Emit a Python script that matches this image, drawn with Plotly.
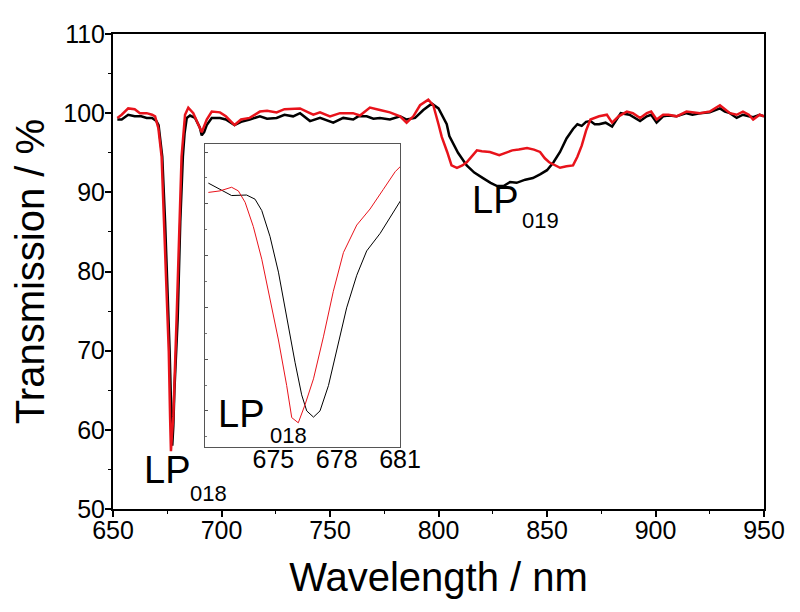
import plotly.graph_objects as go

# ---- main spectra (wavelength nm, transmission %) ----
wl_black = [652, 654, 657, 660, 663, 665.5, 668, 670, 671, 672, 672.7, 674, 675.2, 676.1, 676.9, 677.3,
            677.8, 678.3, 679.8, 681, 682.2, 683, 684, 685.5, 687.8, 690, 690.9, 692, 693.2, 695.5,
            699.3, 702, 706, 709, 713, 717.7, 721, 725.4, 729, 733, 736.2, 740.8, 745.4, 748, 751.5,
            756.1, 760.7, 763, 766.9, 770, 773, 777.6, 782.3, 785.3, 789.2, 793, 796.9, 800, 803.8,
            805, 809, 813, 816.5, 820.5, 824, 827, 830, 833, 836, 840, 843.5, 847, 850, 853, 856,
            859, 862, 864, 866, 868, 870, 872, 874, 877, 880, 884, 888, 892.9, 896, 898, 900.5,
            903.5, 906, 909.7, 914.3, 917, 920.5, 925, 929.7, 932, 934.3, 937.4, 940.3, 943, 945,
            948, 950]
t_black = [99.2, 99.2, 99.8, 99.6, 99.6, 99.4, 99.4, 99.0, 98.5, 96.0, 94.5, 86.3, 78.1, 69.9, 61.7, 58.0,
           60.5, 65.0, 74.0, 86.3, 94.5, 97.5, 99.4, 99.7, 99.4, 98.2, 97.2, 97.6, 98.5, 99.4,
           99.4, 99.2, 98.5, 98.9, 99.2, 99.6, 99.3, 99.4, 99.8, 99.6, 100.0, 99.0, 99.4, 99.1, 98.8,
           99.4, 99.2, 99.6, 99.6, 99.3, 99.4, 99.2, 99.6, 99.2, 99.4, 100.4, 101.2, 100.6, 98.6,
           97.1, 95.0, 93.4, 92.5, 91.8, 91.2, 90.8, 90.8, 91.3, 91.2, 91.6, 91.8, 92.3, 92.8, 93.8, 95.1,
           96.8, 98.0, 98.6, 98.4, 98.9, 99.0, 98.6, 98.6, 98.8, 98.3, 100.0, 99.8, 99.0, 99.6, 99.8, 98.8,
           99.6, 99.7, 99.6, 100.0, 99.8, 100.0, 100.1, 100.6, 100.2, 100.0, 99.4, 99.8, 99.6, 99.5,
           99.8, 99.6]

wl_red = [652, 654, 657, 660, 662.4, 665.5, 668, 669.4, 670.9, 672.4, 673.5, 674.7, 675.7, 676.3, 676.7,
          677.2, 677.8, 679.3, 680.6, 681.6, 683.2, 684.7, 687, 689.3, 690.9, 693.2, 695.5, 699.3,
          702, 706, 709, 713, 717.7, 721, 725.4, 729, 733, 736.2, 740, 742.3, 745.4, 750, 754.6,
          760.6, 763.8, 768.4, 773, 777.6, 782.3, 785.3, 788.4, 791.5, 795.3, 797.6, 800, 801.5,
          804, 806, 808.5, 811, 813, 817.7, 820, 823.7, 828, 831, 834, 837, 840.8, 844, 846.8,
          849, 851, 856, 859, 862, 864, 866, 868, 870, 874, 877.6, 880, 883, 886.8, 889.6, 892.9,
          896, 898, 900.5, 903.5, 906, 909.7, 914.3, 917, 920.5, 925, 929.7, 932, 934.3, 937.4,
          940.3, 943, 945, 948, 950]
t_red = [99.4, 99.8, 100.6, 100.5, 100.0, 100.0, 99.8, 99.6, 98.1, 94.5, 86.3, 78.1, 69.9, 61.7, 57.3,
         59.5, 61.7, 74.0, 86.3, 94.5, 99.8, 100.7, 100.0, 98.6, 97.6, 99.2, 100.2, 100.1,
         99.6, 98.5, 99.2, 99.4, 100.2, 100.3, 100.1, 100.5, 100.6, 100.6, 100.1, 99.8, 100.1, 99.6, 100.0,
         100.0, 99.7, 100.7, 100.4, 100.1, 99.6, 98.8, 99.6, 101.0, 101.7, 101.0, 98.6, 97.0,
         95.1, 93.4, 93.1, 93.4, 93.8, 95.3, 95.2, 95.1, 94.7, 95.0, 95.3, 95.4, 95.6, 95.4, 95.1,
         94.3, 93.8, 93.1, 93.3, 93.4, 94.5, 95.9, 97.8, 99.2, 99.6, 99.8, 98.8, 99.6, 100.2, 100.0, 99.4,
         100.0, 100.2, 99.2, 99.8, 99.8, 99.6, 100.2, 100.1, 100.0, 100.2, 101.0, 100.5, 100.0, 99.8,
         100.2, 99.8, 99.2, 99.8, 99.6]

# ---- inset (zoom on LP018 dip) ----
inset_wl_black = [671.92, 672.47, 673.02, 673.73, 674.13, 674.45, 674.84, 675.24, 675.63, 676.03,
                  676.34, 676.58, 676.9, 677.21, 677.61, 678.0, 678.47, 678.95, 679.42, 680.06,
                  680.69, 681.16]
inset_t_black = [104.0, 102.8, 101.6, 101.7, 100.9, 98.7, 93.7, 86.8, 78.1, 69.3,
                 63.1, 60.0, 58.8, 60.0, 64.9, 71.8, 79.9, 86.2, 90.9, 94.3,
                 98.4, 101.5]
inset_wl_red = [671.92, 672.47, 673.02, 673.34, 673.66, 674.05, 674.45, 674.84, 675.24, 675.63,
                675.87, 676.18, 676.5, 676.9, 677.37, 677.84, 678.32, 678.95, 679.58, 680.21,
                680.77, 681.16]
inset_t_red = [102.2, 102.5, 103.2, 102.5, 100.3, 95.6, 89.3, 81.8, 73.7, 64.9,
               58.7, 57.7, 61.2, 66.2, 74.3, 83.1, 90.6, 95.9, 99.0, 102.8,
               106.2, 107.8]

x_ticks = [650, 700, 750, 800, 850, 900, 950]
y_ticks = [50, 60, 70, 80, 90, 100, 110]
inset_x_ticks = [675, 678, 681]

BLACK = "#000000"
RED = "#e8131b"
FONT = "Arial, Liberation Sans, sans-serif"

fig = go.Figure()
fig.add_trace(go.Scatter(x=wl_black, y=t_black, mode="lines", line=dict(color=BLACK, width=2.5),
                         xaxis="x", yaxis="y", showlegend=False))
fig.add_trace(go.Scatter(x=wl_red, y=t_red, mode="lines", line=dict(color=RED, width=2.5),
                         xaxis="x", yaxis="y", showlegend=False))
fig.add_trace(go.Scatter(x=inset_wl_black, y=inset_t_black, mode="lines", line=dict(color=BLACK, width=1),
                         xaxis="x2", yaxis="y2", showlegend=False))
fig.add_trace(go.Scatter(x=inset_wl_red, y=inset_t_red, mode="lines", line=dict(color=RED, width=1),
                         xaxis="x2", yaxis="y2", showlegend=False))

axis_common = dict(showgrid=False, zeroline=False, color=BLACK)

fig.update_layout(
    width=800, height=612,
    margin=dict(l=105, r=44, t=12, b=111),
    paper_bgcolor="white", plot_bgcolor="white",
    font=dict(family=FONT, color=BLACK),
    xaxis=dict(**axis_common, domain=[0, 1], range=[650, 950], tickvals=x_ticks,
               ticks="outside", ticklen=6, tickwidth=1.5, showline=True, linewidth=2, linecolor=BLACK,
               mirror=True, tickfont=dict(size=25, family=FONT), ticklabelstandoff=-8,
               ticklabeloverflow="allow",
               minor=dict(dtick=25, ticks="outside", ticklen=3, tickwidth=1.2),
               title=dict(text="Wavelength / nm", font=dict(size=40, family=FONT), standoff=20)),
    yaxis=dict(**axis_common, domain=[0, 1], range=[50, 110], tickvals=y_ticks,
               ticks="outside", ticklen=6, tickwidth=1.5, showline=True, linewidth=2, linecolor=BLACK,
               mirror=True, tickfont=dict(size=25, family=FONT), ticklabelstandoff=-5,
               ticklabeloverflow="allow",
               minor=dict(dtick=5, ticks="outside", ticklen=3, tickwidth=1.2),
               title=dict(text="Transmission / %", font=dict(size=40, family=FONT), standoff=12)),
    xaxis2=dict(**axis_common, domain=[0.1413, 0.4409], anchor="y2", range=[671.76, 681],
                tickvals=inset_x_ticks, ticks="", showline=True, linewidth=1, linecolor="#555555",
                mirror=True, tickfont=dict(size=25, family=FONT), ticklabelstandoff=-10,
                ticklabeloverflow="allow"),
    yaxis2=dict(**axis_common, domain=[0.1309, 0.7689], anchor="x2", range=[53.06, 111.6],
                dtick=10, ticks="inside", ticklen=3, tickwidth=1, tickcolor="#555555",
                showticklabels=False, showline=True, linewidth=1, linecolor="#555555", mirror=True,
                minor=dict(dtick=5, ticks="inside", ticklen=2, tickwidth=1, tickcolor="#777777")),
    annotations=[
        dict(x=674.9, y=54.9, xref="x", yref="y", text="LP", showarrow=False,
             font=dict(size=38, family=FONT, color=BLACK)),
        dict(x=694.2, y=52.0, xref="x", yref="y", text="018", showarrow=False,
             font=dict(size=22, family=FONT, color=BLACK)),
        dict(x=826.0, y=89.0, xref="x", yref="y", text="LP", showarrow=False,
             font=dict(size=38, family=FONT, color=BLACK)),
        dict(x=847.2, y=86.5, xref="x", yref="y", text="019", showarrow=False,
             font=dict(size=22, family=FONT, color=BLACK)),
        dict(x=673.45, y=59.4, xref="x2", yref="y2", text="LP", showarrow=False,
             font=dict(size=38, family=FONT, color=BLACK)),
        dict(x=675.7, y=55.3, xref="x2", yref="y2", text="018", showarrow=False,
             font=dict(size=22, family=FONT, color=BLACK)),
    ],
)

fig.write_html("out.html")
